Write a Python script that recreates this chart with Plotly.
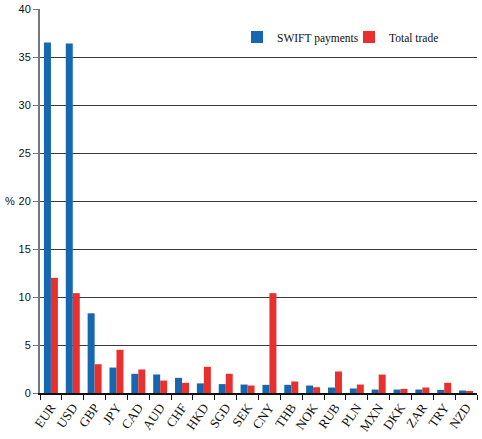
import plotly.graph_objects as go

categories = ["EUR", "USD", "GBP", "JPY", "CAD", "AUD", "CHF", "HKD", "SGD", "SEK",
              "CNY", "THB", "NOK", "RUB", "PLN", "MXN", "DKK", "ZAR", "TRY", "NZD"]
swift_payments = [36.5, 36.4, 8.3, 2.65, 2.0, 1.93, 1.58, 1.0, 0.93, 0.88,
                  0.85, 0.85, 0.78, 0.57, 0.47, 0.36, 0.36, 0.36, 0.33, 0.26]
total_trade = [12.0, 10.4, 3.0, 4.5, 2.45, 1.3, 1.06, 2.73, 2.0, 0.78,
               10.4, 1.2, 0.6, 2.24, 0.88, 1.92, 0.43, 0.57, 1.06, 0.15]
y_ticks = [0, 5, 10, 15, 20, 25, 30, 35, 40]

serif = "Liberation Serif"
sans = "Liberation Sans"

fig = go.Figure()
fig.add_trace(go.Bar(x=categories, y=swift_payments, name="SWIFT payments",
                     marker=dict(color="#1467B0", line=dict(width=0))))
fig.add_trace(go.Bar(x=categories, y=total_trade, name="Total trade",
                     marker=dict(color="#E8312F", line=dict(width=0))))

L, R, T, B = 40, 5, 9, 46
W, H = 482, 439
pw, ph = W - L - R, H - T - B

fig.update_layout(
    width=W, height=H,
    margin=dict(l=L, r=R, t=T, b=B, autoexpand=False),
    paper_bgcolor="white", plot_bgcolor="white",
    barmode="group", bargap=0.36, bargroupgap=0,
    showlegend=True,
    legend=dict(orientation="h", x=(237 - L) / pw, y=(H - B - 37) / ph,
                xanchor="left", yanchor="middle",
                font=dict(family=serif, size=11.5, color="#111"),
                bgcolor="rgba(0,0,0,0)", traceorder="normal",
                entrywidth=67, entrywidthmode="pixels",
                itemwidth=30),
    xaxis=dict(
        tickangle=-55, tickfont=dict(family=serif, size=13, color="#111"),
        showline=True, linecolor="#111", linewidth=1.5,
        ticks="outside", tickson="boundaries", ticklen=5, tickcolor="#111",
        showgrid=False, range=[-0.5, 19.5], automargin=False,
    ),
    yaxis=dict(
        range=[0, 40], tickvals=y_ticks, ticktext=[str(v) for v in y_ticks],
        tickfont=dict(family=sans, size=11, color="#111"),
        showline=True, linecolor="#777", linewidth=2,
        ticks="outside", ticklen=5, tickcolor="#777",
        showgrid=True, gridcolor="#3a3a3a", gridwidth=1,
        zeroline=False, automargin=False,
    ),
    annotations=[dict(text="%", x=(10 - L) / pw, y=(H - B - 201) / ph,
                      xref="paper", yref="paper", showarrow=False,
                      xanchor="center", yanchor="middle",
                      font=dict(family=sans, size=11, color="#111"))],
)

fig.write_html("out.html", config={"displayModeBar": False},
               post_script="document.body.style.margin='0';")
